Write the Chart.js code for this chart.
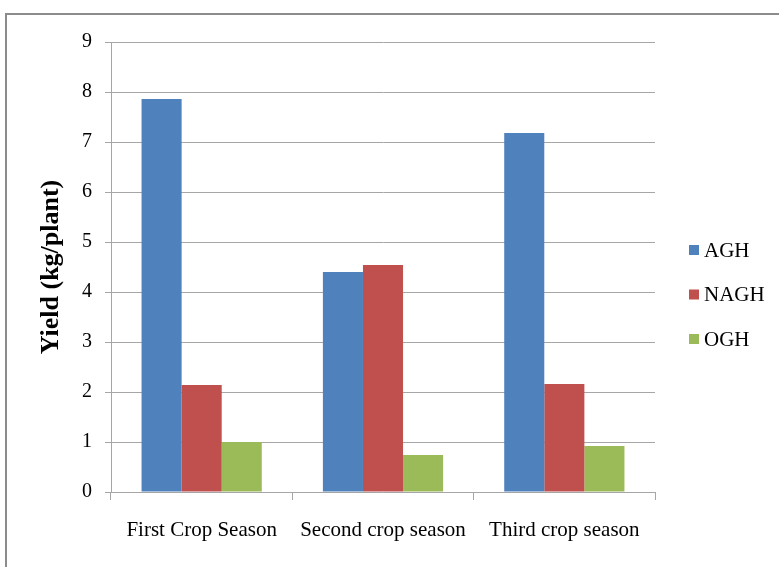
<!DOCTYPE html>
<html>
<head>
<meta charset="utf-8">
<script src="https://cdn.jsdelivr.net/npm/chart.js@4/dist/chart.umd.min.js"></script>
<style>
    html, body { margin: 0; padding: 0; background: #fff; }
    #wrap { position: relative; width: 779px; height: 567px; overflow: hidden; }
    #frame {
        position: absolute; left: 5px; top: 13px; width: 900px; height: 700px;
        border-left: 2px solid #8c8c8c; border-top: 2px solid #8c8c8c;
    }
    #chart { position: absolute; left: 0; top: 0; }
</style>
</head>
<body>
<div id="wrap">
    <div id="frame"></div>
    <canvas id="chart" width="779" height="567"></canvas>
</div>
<script>
// chart data
const seasons = ['First Crop Season', 'Second crop season', 'Third crop season'];
const seriesNames = ['AGH', 'NAGH', 'OGH'];
const aghYield = [7.86, 4.40, 7.18];
const naghYield = [2.14, 4.54, 2.16];
const oghYield = [1.0, 0.74, 0.92];
const yTicks = [0, 1, 2, 3, 4, 5, 6, 7, 8, 9];

const colors = ['#4F81BD', '#C0504D', '#9BBB59'];
const gridColor = '#a6a6a6';
const serif = '"Liberation Serif", "Times New Roman", serif';

// legend drawn at the right like the Excel one
const sideLegend = {
    id: 'sideLegend',
    afterDraw(chart) {
        const ctx = chart.ctx;
        ctx.save();
        ctx.font = '21px ' + serif;
        ctx.textBaseline = 'middle';
        chart.data.datasets.forEach((ds, i) => {
            const y = 250 + i * 44.5;
            ctx.fillStyle = ds.backgroundColor;
            ctx.fillRect(689, y - 5, 10, 10);
            ctx.fillStyle = '#000';
            ctx.fillText(ds.label, 704, y + 1);
        });
        ctx.restore();
    }
};

const values = [aghYield, naghYield, oghYield];

new Chart(document.getElementById('chart'), {
    type: 'bar',
    data: {
        labels: seasons,
        datasets: seriesNames.map((name, i) => ({
            label: name,
            data: values[i],
            backgroundColor: colors[i],
            borderWidth: 0,
            categoryPercentage: 0.663,
            barPercentage: 1.0
        }))
    },
    options: {
        responsive: false,
        animation: false,
        layout: {
            padding: { left: 32, right: 124, top: 42, bottom: 0 }
        },
        plugins: {
            legend: { display: false },
            tooltip: { enabled: false }
        },
        scales: {
            x: {
                offset: true,
                grid: {
                    offset: true,
                    drawOnChartArea: false,
                    drawTicks: true,
                    tickLength: 8,
                    color: gridColor
                },
                border: { display: true, color: gridColor },
                ticks: {
                    color: '#000',
                    font: { family: serif, size: 21 },
                    padding: 18,
                    maxRotation: 0
                },
                afterFit(scale) { scale.height = 75; }
            },
            y: {
                min: 0,
                max: 9,
                afterBuildTicks(scale) {
                    scale.ticks = yTicks.map(v => ({ value: v }));
                },
                grid: {
                    color: gridColor,
                    drawTicks: true,
                    tickLength: 6
                },
                border: { display: true, color: gridColor },
                ticks: {
                    color: '#000',
                    font: { family: serif, size: 20 },
                    padding: 13
                },
                title: {
                    display: true,
                    text: 'Yield (kg/plant)',
                    color: '#000',
                    font: { family: serif, size: 26, weight: 'bold' },
                    padding: { top: 4, bottom: 4 }
                },
                afterFit(scale) { scale.width = 79; }
            }
        }
    },
    plugins: [sideLegend]
});
</script>
</body>
</html>
